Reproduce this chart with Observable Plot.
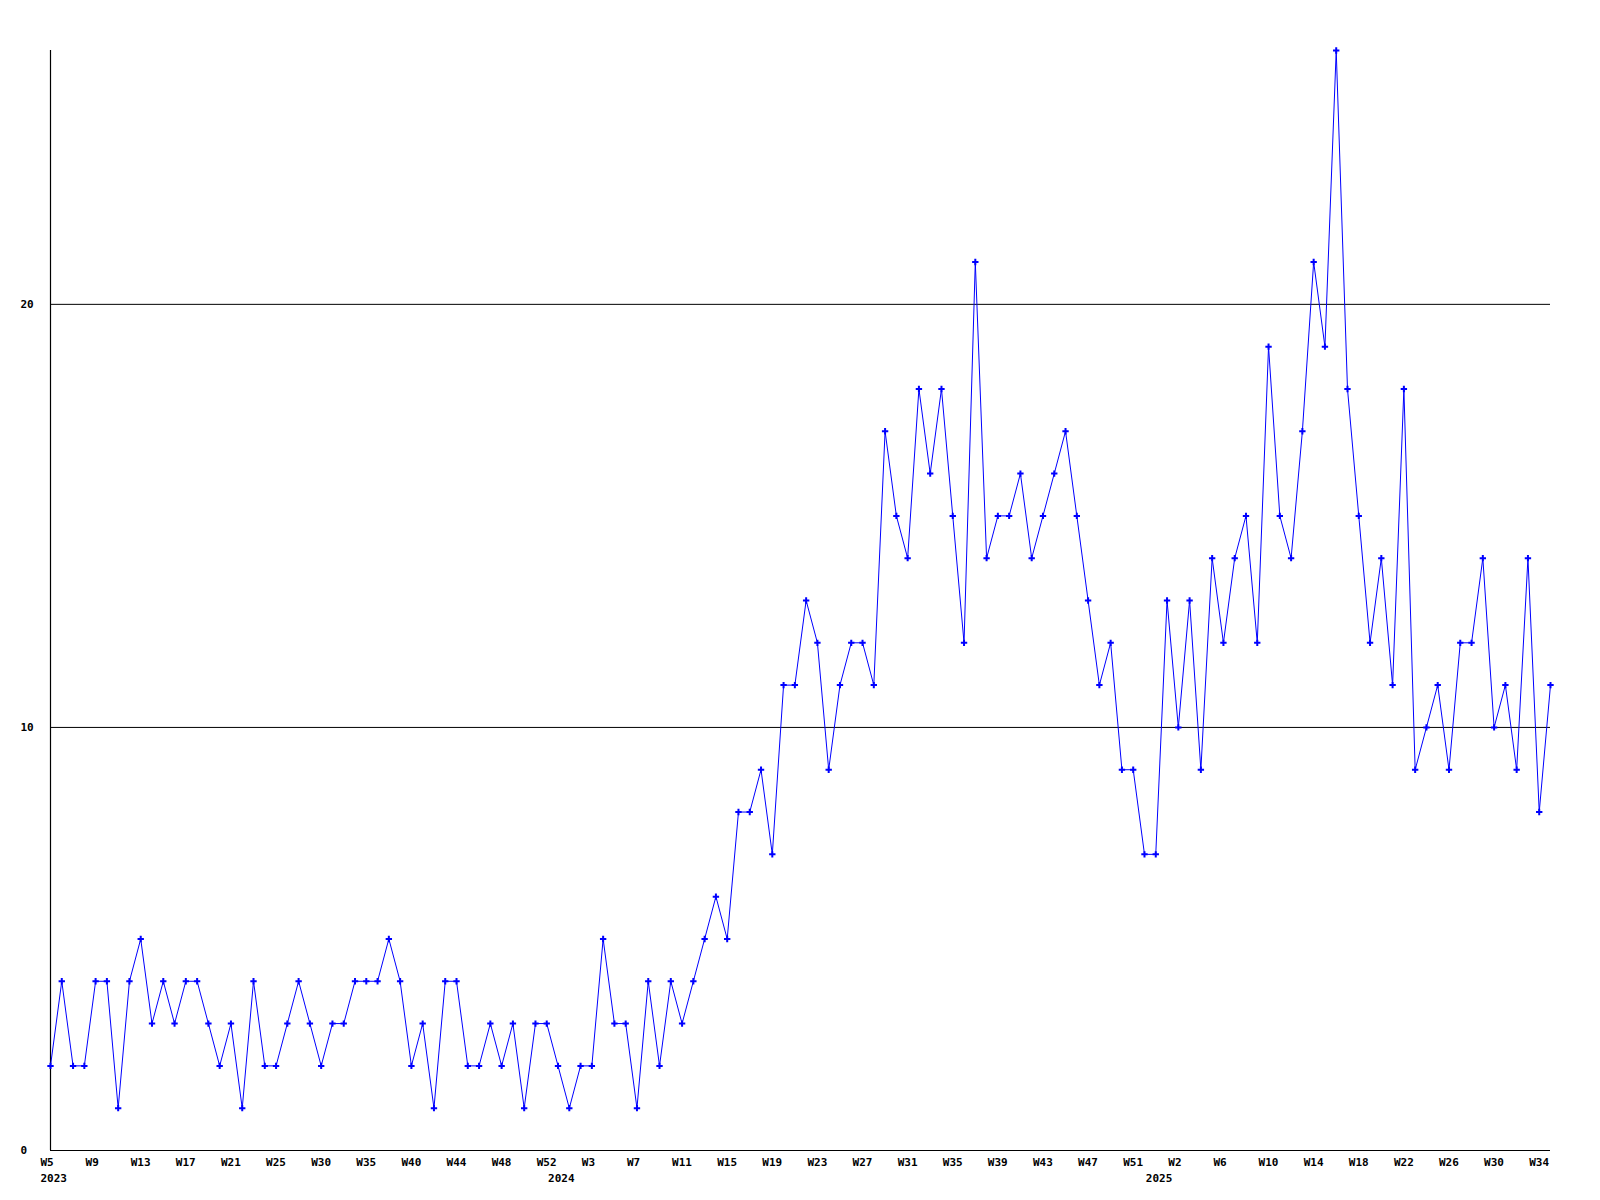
<!DOCTYPE html>
<html>
<head>
<meta charset="utf-8">
<script src="https://cdn.jsdelivr.net/npm/d3@7"></script>
<script src="https://cdn.jsdelivr.net/npm/@observablehq/plot@0.6"></script>
<style>
  html, body { margin: 0; padding: 0; background: #fff; }
  #chart svg { display: block; }
</style>
</head>
<body>
<div id="chart"></div>
<script>
// Week labels per data point (categorical axis; a few 2023 weeks are absent in the data)
const weeks2023 = ["W5","W6","W7","W8","W9","W10","W11","W12","W13","W14","W15","W16","W17","W18","W19","W20","W21","W22","W23","W24","W25",
  "W26","W27","W29","W30","W31","W32","W34","W35","W36","W37","W39","W40","W41","W42","W43","W44","W45","W46","W47","W48","W49","W50","W51","W52"];
const weeks2024 = ["W0","W1","W2","W3","W4","W5","W6","W7","W8","W9","W10","W11","W12","W13","W14","W15","W16","W17","W18","W19","W20",
  "W21","W22","W23","W24","W25","W26","W27","W28","W29","W30","W31","W32","W33","W34","W35","W36","W37","W38","W39","W40",
  "W41","W42","W43","W44","W45","W46","W47","W48","W49","W50","W51","W52"];
const weeks2025 = ["W0","W1","W2","W3","W4","W5","W6","W7","W8","W9","W10","W11","W12","W13","W14","W15","W16","W17","W18","W19","W20",
  "W21","W22","W23","W24","W25","W26","W27","W28","W29","W30","W31","W32","W33","W34","W35"];
const years = ["2023", "2024", "2025"];

// Weekly counts
const values2023 = [2,4,2,2,4,4,1,4,5,3,4,3,4,4,3,2,3,1,4,2,2,3,4,3,2,3,3,4,4,4,5,4,2,3,1,4,4,2,2,3,2,3,1,3,3];
const values2024 = [2,1,2,2,5,3,3,1,4,2,4,3,4,5,6,5,8,8,9,7,11,11,13,12,9,11,12,12,11,17,15,14,18,16,18,15,12,21,14,15,15,16,14,15,16,17,15,13,11,12,9,9,7];
const values2025 = [7,13,10,13,9,14,12,14,15,12,19,15,14,17,21,19,26,18,15,12,14,11,18,9,10,11,9,12,12,14,10,11,9,14,8,11];

const yTicks = [0, 10, 20];
const gridLines = [10, 20];

// Build the table
const weekSets = [weeks2023, weeks2024, weeks2025];
const valueSets = [values2023, values2024, values2025];
const data = [];
const yearStarts = [];
weekSets.forEach((ws, k) => {
  yearStarts.push({i: data.length, label: years[k]});
  ws.forEach((w, j) => data.push({i: data.length, week: w, year: years[k], v: valueSets[k][j]}));
});
const xTicks = data.filter(d => d.i % 4 === 0);

const font = "'DejaVu Sans Mono', monospace";

const chart = Plot.plot({
  width: 1600,
  height: 1200,
  marginLeft: 50,
  marginRight: 50,
  marginTop: 50,
  marginBottom: 50,
  style: {fontFamily: font, fontSize: "11px", fontWeight: "bold", background: "#ffffff", color: "#000"},
  x: {domain: [0, data.length - 1], axis: null},
  y: {domain: [0, 26], axis: null},
  marks: [
    Plot.ruleY(gridLines, {stroke: "#000", strokeWidth: 1}),
    Plot.ruleY([0], {stroke: "#000", strokeWidth: 1.2}),
    Plot.ruleX([0], {stroke: "#000", strokeWidth: 1.2}),
    Plot.text(yTicks, {x: 0, y: d => d, text: d => String(d), dx: -30, textAnchor: "start", fill: "#000"}),
    Plot.text(xTicks, {x: "i", text: "week", frameAnchor: "bottom", dy: 15, dx: -10, textAnchor: "start", fill: "#000"}),
    Plot.text(yearStarts, {x: "i", text: "label", frameAnchor: "bottom", dy: 31, dx: -10, textAnchor: "start", fill: "#000"}),
    Plot.line(data, {x: "i", y: "v", stroke: "#0000ff", strokeWidth: 1}),
    Plot.dot(data, {x: "i", y: "v", symbol: "plus", r: 2.2, stroke: "#0000ff", strokeWidth: 2})
  ]
});
document.getElementById("chart").appendChild(chart);
</script>
</body>
</html>
